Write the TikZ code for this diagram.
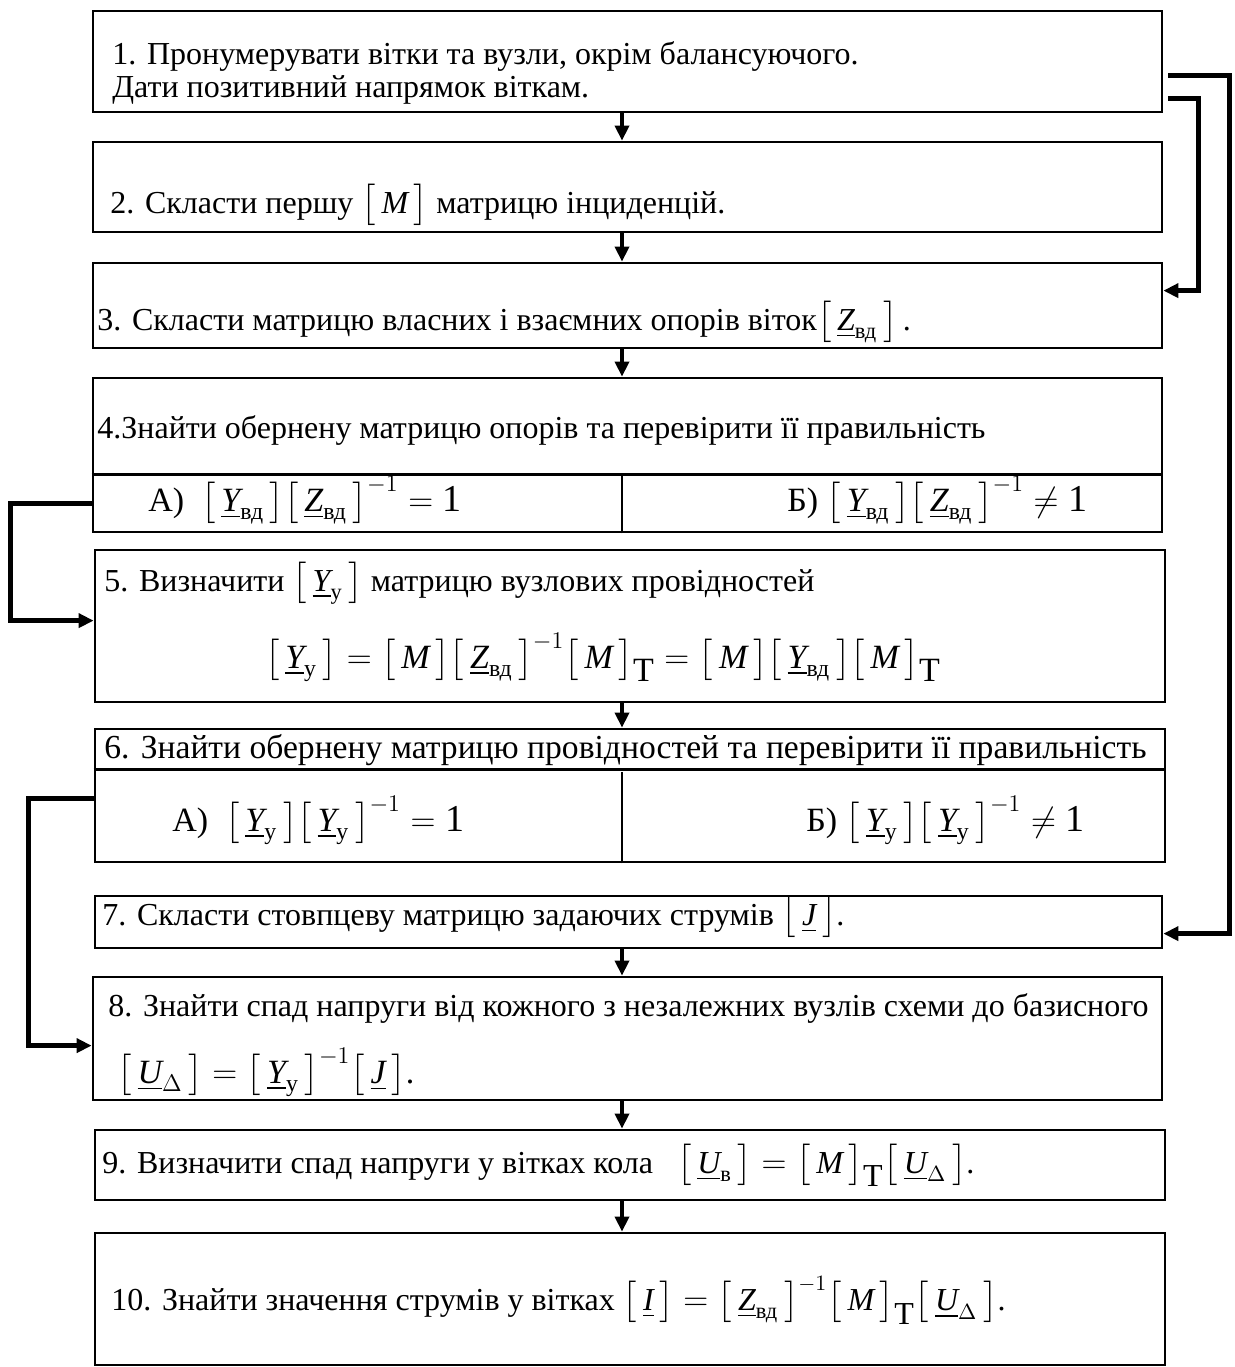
\documentclass[tikz,border=0pt]{standalone}
\usepackage{amsmath}
\usepackage{fontspec}
\setmainfont{Liberation Serif}
\usetikzlibrary{arrows.meta,calc,fit,positioning}

\newcommand{\ivar}[1]{\text{\itshape #1}}
\newcommand{\cv}[1]{\underline{\ivar{#1}}}
\newcommand{\mx}[1]{\bigl[\,#1\,\bigr]}
\newcommand{\fone}{\text{\fontsize{19}{20}\selectfont 1}}

\begin{document}
\begin{tikzpicture}[x=0.5pt, y=-0.5pt,
  blk/.style={draw, line width=1.4pt, inner sep=0pt},
  txt/.style={font=\fontsize{16}{16.5}\selectfont, inner sep=0pt, anchor=west},
  fml/.style={font=\fontsize{17}{18}\selectfont, inner sep=0pt, anchor=west},
  arr/.style={line width=1.8pt, -{Triangle[length=7.5pt, width=7pt]}},
  lnk/.style={line width=2.2pt, -{Triangle[length=7.5pt, width=7pt]}}]

\useasboundingbox (0,0) rectangle (1235,1367);

%boxes
\node[blk, fit={(93,11) (1162,112)}] (b1) {};
\node[blk, fit={(93,142) (1162,232)}] (b2) {};
\node[blk, fit={(93,263) (1162,348)}] (b3) {};
\node[blk, fit={(93,378) (1162,532)}] (b4) {};
\node[blk, fit={(95,550) (1165,702)}] (b5) {};
\node[blk, fit={(95,729) (1165,862)}] (b6) {};
\node[blk, fit={(95,896) (1162,948)}] (b7) {};
\node[blk, fit={(93,977) (1162,1100)}] (b8) {};
\node[blk, fit={(95,1130) (1165,1200)}] (b9) {};
\node[blk, fit={(95,1233) (1165,1365)}] (b10) {};

\coordinate (ax) at (622,0);

%rows inside 4 and 6
\draw[line width=1.2pt] ($(b4.south west)+(0,-59)$) -- ($(b4.south east)+(0,-59)$);
\draw[line width=1.2pt] (b4.south -| ax) -- ++(0,-59);
\draw[line width=1.2pt] ($(b6.north west)+(0,42)$) -- ($(b6.north east)+(0,42)$);
\draw[line width=1.2pt] (b6.south -| ax) -- ++(0,-91);

%text
\node[txt, align=left] (t1) at (112,73) {1. Пронумерувати вітки та вузли, окрім балансуючого.\\Дати позитивний напрямок віткам.};
\node[txt] (t2) at (110,205) {2. Скласти першу $\mx{\ivar{M}}$ матрицю інциденцій.};
\node[txt] (t3) at (97,322) {3. Скласти матрицю власних і взаємних опорів віток$\mx{\cv{Z}_{\text{вд}}}$\,.};
\node[txt] (t4) at (97,430) {4.Знайти обернену матрицю опорів та перевірити її правильність};
\node[fml] (t4a) at (148,500) {А)\ \ $\mx{\cv{Y}_{\text{вд}}}\mx{\cv{Z}_{\text{вд}}}^{-1}=\fone$};
\node[fml] (t4b) at (787,500) {Б) $\mx{\cv{Y}_{\text{вд}}}\mx{\cv{Z}_{\text{вд}}}^{-1}\neq \fone$};
\node[txt] (t5) at (104,583) {5. Визначити $\mx{\cv{Y}_{\text{у}}}$ матрицю вузлових провідностей};
\node[fml, anchor=center] (t5f) at (603,657) {$\mx{\cv{Y}_{\text{у}}}=\mx{\ivar{M}}\mx{\cv{Z}_{\text{вд}}}^{-1}\mx{\ivar{M}}_{\mbox{T}}=\mx{\ivar{M}}\mx{\cv{Y}_{\text{вд}}}\mx{\ivar{M}}_{\mbox{T}}$};
\node[txt, font=\fontsize{16.8}{17}\selectfont] (t6) at (104,750) {6. Знайти обернену матрицю провідностей та перевірити її правильність};
\node[fml] (t6a) at (172,820) {А)\ \ $\mx{\cv{Y}_{\text{у}}}\mx{\cv{Y}_{\text{у}}}^{-1}=\fone$};
\node[fml] (t6b) at (806,820) {Б) $\mx{\cv{Y}_{\text{у}}}\mx{\cv{Y}_{\text{у}}}^{-1}\neq \fone$};
\node[txt] (t7) at (102,917) {7. Скласти стовпцеву матрицю задаючих струмів $\mx{\cv{J}}$.};
\node[txt] (t8) at (108,1008) {8. Знайти спад напруги від кожного з незалежних вузлів схеми до базисного};
\node[fml] (t8f) at (117,1072) {$\mx{\cv{U}_{\Delta}}=\mx{\cv{Y}_{\text{у}}}^{-1}\mx{\cv{J}}$.};
\node[txt] (t9) at (102,1165) {9. Визначити спад напруги у вітках кола\ \ \ $\mx{\cv{U}_{\text{в}}}=\mx{\ivar{M}}_{\mbox{T}}\mx{\cv{U}_{\Delta}}$.};
\node[txt] (t10) at (111,1300) {10. Знайти значення струмів у вітках $\mx{\cv{I}}=\mx{\cv{Z}_{\text{вд}}}^{-1}\mx{\ivar{M}}_{\mbox{T}}\mx{\cv{U}_{\Delta}}$.};

%arrows
\draw[arr] (b1.south -| ax) -- (b2.north -| ax);
\draw[arr] (b2.south -| ax) -- (b3.north -| ax);
\draw[arr] (b3.south -| ax) -- (b4.north -| ax);
\draw[arr] (b5.south -| ax) -- (b6.north -| ax);
\draw[arr] (b7.south -| ax) -- (b8.north -| ax);
\draw[arr] (b8.south -| ax) -- (b9.north -| ax);
\draw[arr] (b9.south -| ax) -- (b10.north -| ax);

\draw[lnk] ($(b1.north east)+(5,66)$) -- ++(61,0) |- ($(b7.north east)+(0,39)$);
\draw[lnk] ($(b1.north east)+(5,89)$) -- ++(30,0) |- ($(b3.north east)+(0,29)$);
\draw[lnk] ($(b4.south west)+(0,-30)$) -- ++(-81,0) |- ($(b5.north west)+(0,72)$);
\draw[lnk] ($(b6.south west)+(0,-65)$) -- ++(-65,0) |- ($(b8.north west)+(0,70)$);

\end{tikzpicture}
\end{document}
